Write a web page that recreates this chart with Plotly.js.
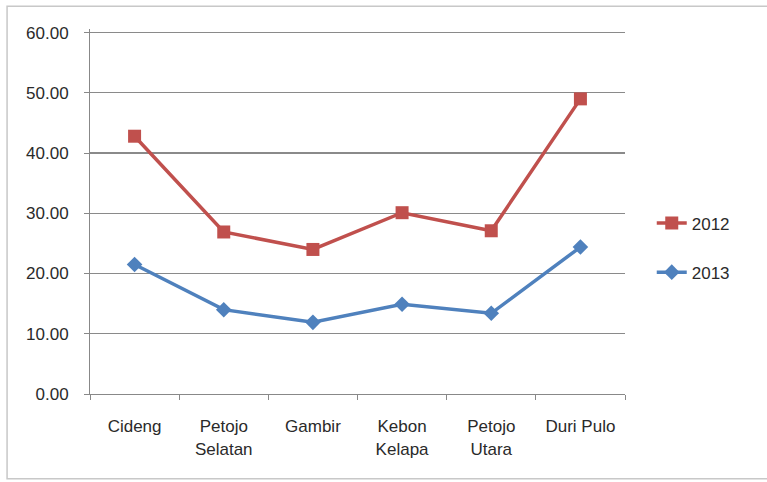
<!DOCTYPE html>
<html>
<head>
<meta charset="utf-8">
<script src="https://cdn.plot.ly/plotly-3.0.1.min.js"></script>
<style>
html,body{margin:0;padding:0;background:#fff;}
#chart{width:767px;height:482px;}
</style>
</head>
<body>
<div id="chart"></div>
<script>
const categories = ["Cideng", "Petojo<br>Selatan", "Gambir", "Kebon<br>Kelapa", "Petojo<br>Utara", "Duri Pulo"];
const series2012 = [42.8, 26.9, 24.0, 30.1, 27.1, 49.0];
const series2013 = [21.5, 14.0, 11.9, 14.9, 13.4, 24.4];
const yTicks = [0, 10, 20, 30, 40, 50, 60];

const fam = "Liberation Sans, Arial, sans-serif";
const txt = "#2a2a2a";

const traces = [
  {
    x: categories, y: series2012, name: "2012", type: "scatter", mode: "lines+markers",
    legendgroup: "a",
    line: {color: "#C0504D", width: 3.5},
    marker: {symbol: "square", size: 13, color: "#C0504D"}
  },
  {
    x: categories, y: series2013, name: "2013", type: "scatter", mode: "lines+markers",
    legendgroup: "b",
    line: {color: "#4F81BD", width: 3.5},
    marker: {symbol: "diamond", size: 12, color: "#4F81BD"}
  }
];

const layout = {
  width: 767, height: 482,
  margin: {l: 90, r: 142, t: 29, b: 88},
  paper_bgcolor: "#fff", plot_bgcolor: "#fff",
  font: {family: fam, size: 17, color: txt},
  showlegend: true,
  legend: {x: 1.05, y: 0.40, yanchor: "middle", xanchor: "left", tracegroupgap: 24,
           font: {family: fam, size: 17, color: txt}, bgcolor: "rgba(0,0,0,0)"},
  xaxis: {
    type: "category",
    showgrid: false, showline: true, linecolor: "#888", linewidth: 1,
    ticks: "outside", tickson: "boundaries", ticklen: 5, tickcolor: "#888",
    tickfont: {family: fam, size: 17, color: txt},
    ticklabelstandoff: 17,
    range: [-0.5, 5.5]
  },
  yaxis: {
    range: [0, 60.6], tickvals: yTicks, tickformat: ".2f",
    showgrid: true, gridcolor: "#8a8a8a", gridwidth: 1.3,
    showline: true, linecolor: "#888", linewidth: 1,
    ticks: "outside", ticklen: 5, tickcolor: "#888",
    tickfont: {family: fam, size: 17, color: txt},
    ticklabelstandoff: 12,
    zeroline: false
  },
  shapes: [{
    type: "rect", xref: "paper", yref: "paper",
    x0: -0.155, x1: 1.27, y0: -0.232, y1: 1.062,
    line: {color: "#c8c8c8", width: 1.5}, fillcolor: "rgba(0,0,0,0)"
  }]
};

Plotly.newPlot("chart", traces, layout, {displayModeBar: false, staticPlot: true});
</script>
</body>
</html>
